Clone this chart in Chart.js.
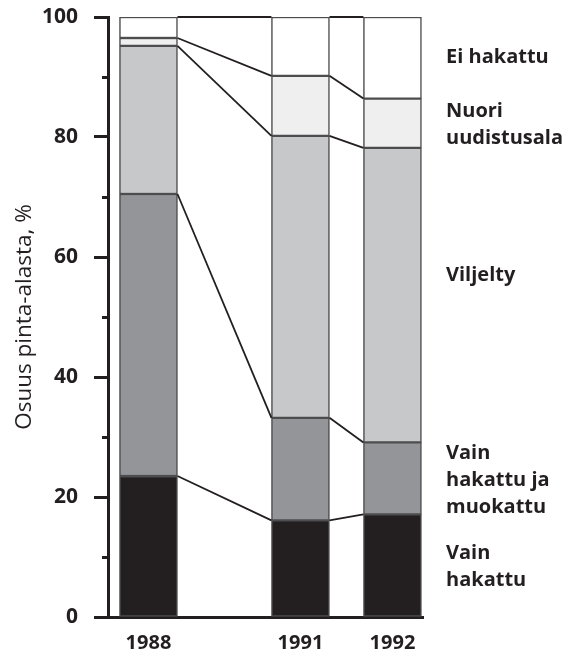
<!DOCTYPE html>
<html><head><meta charset="utf-8">
<script src="https://cdn.jsdelivr.net/npm/chart.js@4/dist/chart.umd.min.js"></script>
<style>html,body{margin:0;padding:0;background:#fff}#wrap{width:568px;height:666px}</style>
</head><body><div id="wrap"><canvas id="c" width="568" height="666"></canvas></div>
<script>
// ---- data ----
const years = ['1988', '1991', '1992'];
const seriesNames = ['Vain hakattu', 'Vain hakattu ja muokattu', 'Viljelty', 'Nuori uudistusala', 'Ei hakattu'];
const vainHakattu      = [23.5, 16.1, 17.1];
const hakattuMuokattu  = [47.0, 17.1, 12.0];
const viljelty         = [24.7, 47.0, 49.1];
const nuoriUudistusala = [1.3, 10.0, 8.2];
const eiHakattu        = [3.5, 9.8, 13.6];
const yTickValues = [0, 20, 40, 60, 80, 100];
const yMinorTicks = [10, 30, 50, 70, 90];
const labelLines = [['Vain', 'hakattu'], ['Vain', 'hakattu ja', 'muokattu'], ['Viljelty'], ['Nuori', 'uudistusala'], ['Ei hakattu']];
const yTitle = 'Osuus pinta-alasta, %';

// ---- layout / style ----
const barSlots = [0, 1.652, 2.652];          // horizontal slot of each year's bar
const labelAnchors = [8.3, 22.8, 56.9, 82, 93.3]; // vertical placement of right-side labels (value units)
const fills = ['#231f20', '#939598', '#c7c8ca', '#efeff0', '#ffffff'];
const ink = '#231f20';
const FONT = '"Open Sans", "DejaVu Sans", sans-serif';

const seriesValues = [vainHakattu, hakattuMuokattu, viljelty, nuoriUudistusala, eiHakattu];
const datasets = seriesValues.map((vals, s) => ({
  label: seriesNames[s],
  data: vals.map((v, i) => ({ x: barSlots[i], y: v })),
  backgroundColor: fills[s],
  borderColor: '#4d4d4f',
  borderWidth: 1.5,
  borderSkipped: false,
  barThickness: 58
}));

const decorPlugin = {
  id: 'decor',
  afterDatasetsDraw(chart) {
    const ctx = chart.ctx;
    const ys = chart.scales.y;
    const n = years.length;
    ctx.save();
    ctx.strokeStyle = ink;
    ctx.lineWidth = 1.8;
    for (let i = 0; i < n - 1; i++) {
      let cumA = 0, cumB = 0;
      for (let s = 0; s < seriesValues.length; s++) {
        cumA += seriesValues[s][i];
        cumB += seriesValues[s][i + 1];
        const elA = chart.getDatasetMeta(s).data[i];
        const elB = chart.getDatasetMeta(s).data[i + 1];
        const xa = elA.x + elA.width / 2;
        const xb = elB.x - elB.width / 2;
        ctx.beginPath();
        ctx.moveTo(xa, ys.getPixelForValue(cumA));
        ctx.lineTo(xb, ys.getPixelForValue(cumB));
        ctx.stroke();
      }
    }
    ctx.restore();
  },
  afterDraw(chart) {
    const ctx = chart.ctx;
    const ys = chart.scales.y;
    const area = chart.chartArea;
    ctx.save();
    ctx.strokeStyle = ink;
    ctx.lineWidth = 3;
    yMinorTicks.forEach(v => {
      const y = Math.round(ys.getPixelForValue(v)) + 0.5;
      ctx.beginPath();
      ctx.moveTo(area.left - 6, y);
      ctx.lineTo(area.left, y);
      ctx.stroke();
    });
    ctx.fillStyle = ink;
    ctx.font = 'bold 20px ' + FONT;
    ctx.textAlign = 'left';
    ctx.textBaseline = 'middle';
    const lh = 27;
    labelLines.forEach((lines, k) => {
      const yc = ys.getPixelForValue(labelAnchors[k]);
      const y0 = yc - (lines.length - 1) * lh / 2;
      lines.forEach((t, j) => ctx.fillText(t, area.right + 23, y0 + j * lh));
    });
    ctx.restore();
  }
};

new Chart(document.getElementById('c'), {
  type: 'bar',
  data: { datasets },
  options: {
    responsive: false,
    animation: false,
    devicePixelRatio: 1,
    layout: { padding: { left: 0, right: 145, top: 17, bottom: 0 } },
    plugins: { legend: { display: false }, tooltip: { enabled: false } },
    scales: {
      x: {
        type: 'linear',
        stacked: true,
        offset: false,
        min: -0.44,
        max: 2.984,
        afterBuildTicks: s => { s.ticks = barSlots.map(v => ({ value: v })); },
        afterFit: s => { s.height = 49; s.paddingLeft = 0; s.paddingRight = 0; },
        ticks: {
          autoSkip: false,
          maxRotation: 0,
          padding: 14,
          color: ink,
          font: { family: FONT, size: 20, weight: 'bold' },
          callback: (v, i) => years[i]
        },
        grid: { display: true, drawOnChartArea: false, drawTicks: false, offset: false },
        border: { display: true, color: ink, width: 3 }
      },
      y: {
        stacked: true,
        min: 0,
        max: 100,
        afterBuildTicks: s => { s.ticks = yTickValues.map(v => ({ value: v })); },
        afterFit: s => { s.width = 108; s.paddingTop = 0; s.paddingBottom = 0; },
        ticks: {
          padding: 16,
          color: ink,
          font: { family: FONT, size: 21, weight: 'bold' }
        },
        grid: { display: true, drawOnChartArea: false, drawTicks: true, tickLength: 14, tickWidth: 3, tickColor: ink },
        border: { display: true, color: ink, width: 3 },
        title: {
          display: true,
          text: yTitle,
          color: ink,
          padding: { top: 11, bottom: 0 },
          font: { family: FONT, size: 22.5, weight: 500 }
        }
      }
    }
  },
  plugins: [decorPlugin]
});
</script>
</body></html>
